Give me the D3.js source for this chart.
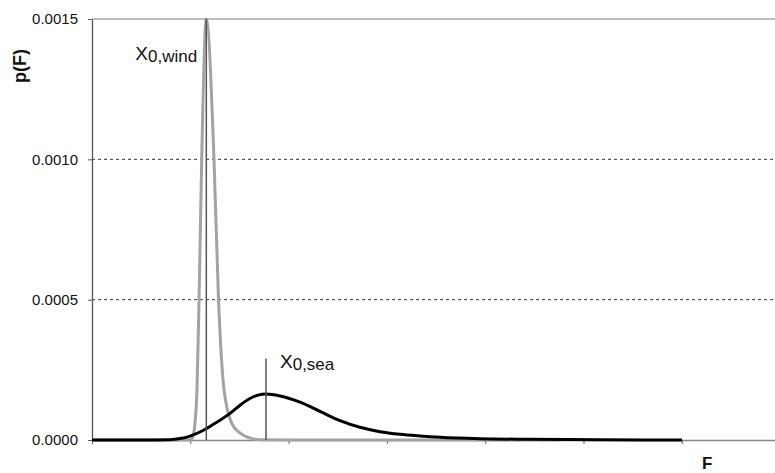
<!DOCTYPE html>
<html>
<head>
<meta charset="utf-8">
<script src="https://cdn.jsdelivr.net/npm/d3@7"></script>
<style>
  body { margin: 0; background: #fff; }
  svg { display: block; font-family: Arial, "Liberation Sans", sans-serif; }
</style>
</head>
<body>
<svg id="chart" width="775" height="473"></svg>
<script>
// F axis is in tick units (no labels on the x axis in the original)
const xTicks = [0, 1, 2, 3, 4, 5, 6, 7]
const yTicks = [0, 0.0005, 0.0010, 0.0015]
const gridValues = [0.0005, 0.0010]

// wind distribution
const windF = [0, 0.90, 0.987, 1.017, 1.038, 1.048, 1.068, 1.089, 1.116, 1.163, 1.241, 1.287, 1.343, 1.421, 1.506, 1.628, 1.709, 2.116, 3.0, 4.76]
const windP = [0, 0, 0, 0.000005, 0.00003, 0.00006, 0.00018, 0.0005, 0.0010, 0.0015, 0.0010, 0.0005, 0.00018, 0.00006, 0.000025, 0.000005, 0.000001, 0, 0, 0]

// sea distribution
const seaF = [0, 0.5, 0.794, 0.895, 0.997, 1.129, 1.231, 1.404, 1.506, 1.607, 1.690, 1.770, 1.913, 2.116, 2.319, 2.523, 2.726, 2.930, 3.133, 3.337, 3.540, 3.947, 4.456, 5.168, 6.002]
const seaP = [0, 0, 0.000001, 0.000005, 0.000014, 0.000034, 0.000055, 0.000095, 0.000124, 0.000148, 0.000160, 0.000164, 0.000157, 0.000135, 0.000102, 0.0000688, 0.0000452, 0.0000296, 0.0000203, 0.0000143, 0.0000096, 0.0000046, 0.0000025, 0.000001, 0]

// mode markers
const windMode = 1.163
const windMarkerTop = 0.0015
const seaMode = 1.77
const seaMarkerTop = 0.00029

const svg = d3.select('#chart')

const plotLeft = 92
const plotRight = 775
const plotTop = 19
const plotBottom = 440

const x = d3.scaleLinear().domain([0, 7]).range([plotLeft, plotLeft + 7 * 98.3])
const y = d3.scaleLinear().domain([0, 0.0015]).range([plotBottom, plotTop])

// Gridlines
svg.append('g')
    .selectAll('line')
    .data(gridValues)
    .enter()
    .append('line')
    .attr('x1', plotLeft)
    .attr('x2', plotRight)
    .attr('y1', d => y(d))
    .attr('y2', d => y(d))
    .style('stroke', '#333')
    .style('stroke-width', 1)
    .style('stroke-dasharray', '3,3')

// Top border
svg.append('line')
    .attr('x1', plotLeft)
    .attr('x2', plotRight)
    .attr('y1', y(0.0015))
    .attr('y2', y(0.0015))
    .style('stroke', '#bdbdbd')
    .style('stroke-width', 2)

// Axes
const yAxis = svg.append('g')
    .attr('transform', 'translate(' + plotLeft + ',0)')
    .call(d3.axisLeft(y).tickValues(yTicks).tickFormat(d3.format('.4f')).tickSize(4).tickSizeOuter(0).tickPadding(10))

yAxis.select('.domain').style('stroke', '#555').style('stroke-width', 1.3)
yAxis.selectAll('.tick line').style('stroke', '#555')
yAxis.selectAll('.tick text')
    .style('font-size', '15px')
    .style('fill', '#111')
    .style('font-family', 'Arial, "Liberation Sans", sans-serif')

const xAxis = svg.append('g')
    .attr('transform', 'translate(0,' + plotBottom + ')')
    .call(d3.axisBottom(x).tickValues(xTicks).tickFormat('').tickSize(4).tickSizeOuter(0))

xAxis.select('.domain').style('stroke', '#888').style('stroke-width', 1.3)
xAxis.selectAll('.tick line').style('stroke', '#666')

// Curves
const line = d3.line()
    .x(d => x(d[0]))
    .y(d => y(d[1]))
    .curve(d3.curveMonotoneX)

svg.append('path')
    .datum(d3.zip(windF, windP))
    .attr('d', line)
    .style('fill', 'none')
    .style('stroke', '#a3a3a3')
    .style('stroke-width', 3)

svg.append('path')
    .datum(d3.zip(seaF, seaP))
    .attr('d', line)
    .style('fill', 'none')
    .style('stroke', '#000')
    .style('stroke-width', 3)

// Mode markers
svg.append('g')
    .selectAll('line')
    .data([[windMode, windMarkerTop], [seaMode, seaMarkerTop]])
    .enter()
    .append('line')
    .attr('x1', d => x(d[0]))
    .attr('x2', d => x(d[0]))
    .attr('y1', y(0))
    .attr('y2', d => y(d[1]))
    .style('stroke', '#555')
    .style('stroke-width', 1.5)

// Marker labels
function markerLabel(px, py, sub){
    const t = svg.append('text')
        .attr('x', px)
        .attr('y', py)
        .style('fill', '#111')
    t.append('tspan')
        .style('font-size', '19px')
        .text('X')
    t.append('tspan')
        .attr('dy', 2)
        .style('font-size', '17px')
        .text(sub)
}
markerLabel(x(windMode) - 71, 60, '0,wind')
markerLabel(x(seaMode) + 14, 368, '0,sea')

// Axis titles
svg.append('text')
    .attr('transform', 'translate(26,66) rotate(-90)')
    .attr('text-anchor', 'middle')
    .style('font-size', '18px')
    .style('font-weight', 'bold')
    .style('fill', '#111')
    .text('p(F)')

svg.append('text')
    .attr('x', 702)
    .attr('y', 469)
    .style('font-size', '17px')
    .style('font-weight', 'bold')
    .style('fill', '#111')
    .text('F')
</script>
</body>
</html>
